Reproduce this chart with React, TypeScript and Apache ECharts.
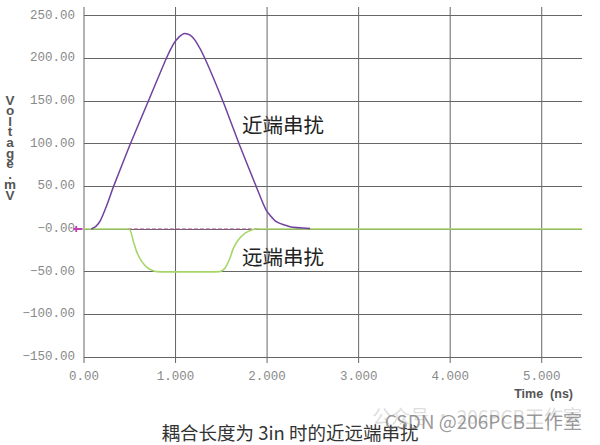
import React, { useEffect, useRef } from "react";
import * as echarts from "echarts";

// Axis tick values
const timeTicks = [0, 1, 2, 3, 4, 5];
const voltageTicks = [-150, -100, -50, 0, 50, 100, 150, 200, 250];

// Near-end crosstalk waveform: [time (ns), voltage (mV)]
const nearEnd: [number, number][] = [
  [0.08, 0], [0.13, 3], [0.18, 10], [0.25, 28], [0.32, 49], [0.5, 98],
  [0.7, 149], [0.9, 200], [0.98, 217], [1.04, 225], [1.1, 229], [1.16, 227],
  [1.22, 220], [1.32, 200], [1.52, 149], [1.7, 98], [1.88, 50], [1.99, 22],
  [2.1, 8.5], [2.25, 2.7], [2.47, 0.5],
];

// Far-end crosstalk waveform: [time (ns), voltage (mV)]
const farEnd: [number, number][] = [
  [0, 0], [0.49, 0], [0.54, -15], [0.575, -26.5], [0.63, -38], [0.7, -46],
  [0.79, -50], [1.0, -50.3], [1.2, -50.3], [1.485, -50], [1.54, -46],
  [1.595, -34], [1.63, -23], [1.685, -13], [1.76, -5], [1.83, -1.2],
  [1.885, 0], [5.44, 0],
];

// Zero reference trace (visible where the far-end waveform leaves zero)
const zeroRef: [number, number][] = [[0.48, 0], [1.9, 0]];

// Y axis title, one upright letter per row
const yTitleChars = ["V", "o", "l", "t", "a", "g", "e", ".", "m", "V"];

const X_MAX = 5.44;
const Y_MIN = -150;
const Y_MAX = 260;
// vertical grid lines run a little below the bottom line, as tick marks
const TICK_OVERHANG = 7;

const gridColor = "#666";
const monoFont = "'Liberation Mono', 'DejaVu Sans Mono', monospace";
const cjkFont = "'Noto Sans CJK SC', 'Noto Sans', sans-serif";

function fmtVoltage(v: number): string {
  if (v === 0) return "\u22120.00";
  if (v < 0) return "\u2212" + Math.abs(v).toFixed(2);
  return v.toFixed(2);
}

export default function App() {
  const ref = useRef<HTMLDivElement>(null);

  useEffect(() => {
    if (!ref.current) return;
    const chart = echarts.init(ref.current, undefined, { renderer: "svg" });

    const yTitle = yTitleChars.map((ch, i) => ({
      type: "text",
      x: 10,
      y: 100 + i * 10.6,
      style: {
        text: ch,
        fill: "#555",
        font: "bold 13.5px 'Liberation Sans', Arial, sans-serif",
        lineHeight: 10,
        align: "center",
        verticalAlign: "middle",
      },
    }));

    const timeGrid = timeTicks.map((t) => ({
      name: "grid-" + t,
      type: "line",
      data: [
        [t, Y_MIN - TICK_OVERHANG],
        [t, Y_MAX],
      ],
      showSymbol: false,
      silent: true,
      clip: false,
      lineStyle: { color: gridColor, width: 1 },
      emphasis: { disabled: true },
      z: 1,
    }));

    chart.setOption({
      animation: false,
      backgroundColor: "#ffffff",
      grid: { left: 84, right: 18, top: 7, bottom: 88, containLabel: false },
      xAxis: {
        type: "value",
        min: 0,
        max: X_MAX,
        interval: 1,
        axisLine: { show: false },
        axisTick: { show: false },
        axisLabel: {
          customValues: timeTicks,
          margin: 13,
          color: "#8a8a8a",
          fontFamily: monoFont,
          fontSize: 12.5,
          formatter: (v: number) => (v === 0 ? "0.00" : v.toFixed(3)),
        },
        splitLine: { show: false },
      },
      yAxis: {
        type: "value",
        min: Y_MIN,
        max: Y_MAX,
        interval: 50,
        axisLine: { show: false },
        axisTick: { show: false },
        axisLabel: {
          customValues: voltageTicks,
          margin: 9,
          color: "#8a8a8a",
          fontFamily: monoFont,
          fontSize: 12.5,
          formatter: fmtVoltage,
        },
        splitLine: {
          show: true,
          showMaxLine: false,
          lineStyle: { color: gridColor, width: 1 },
        },
      },
      series: [
        ...timeGrid,
        {
          name: "zero",
          type: "line",
          data: zeroRef,
          showSymbol: false,
          clip: false,
          lineStyle: { color: "#b0508f", width: 1, type: [4, 2] },
          markPoint: {
            silent: true,
            symbol: "path://M2,0 H4 V2 H10 V4 H4 V6 H2 V4 H0 V2 H2 Z",
            symbolSize: [9, 6],
            symbolOffset: [-6, 0],
            itemStyle: { color: "#c040b0" },
            label: { show: false },
            data: [{ coord: [0, 0] }],
          },
          z: 2,
        },
        {
          name: "远端串扰",
          type: "line",
          data: farEnd,
          showSymbol: false,
          smooth: 0.2,
          lineStyle: { color: "#a6d66a", width: 1.6 },
          z: 3,
        },
        {
          name: "近端串扰",
          type: "line",
          data: nearEnd,
          showSymbol: false,
          smooth: 0.2,
          lineStyle: { color: "#7042a0", width: 1.5 },
          z: 4,
        },
      ],
      graphic: [
        ...yTitle,
        {
          type: "text",
          x: 573,
          y: 394,
          style: {
            text: "Time  (ns)",
            fill: "#555",
            font: "bold 12.5px 'Liberation Sans', Arial, sans-serif",
            align: "right",
            verticalAlign: "middle",
          },
        },
        {
          type: "text",
          x: 283,
          y: 124,
          style: {
            text: "近端串扰",
            fill: "#222",
            font: `20.5px ${cjkFont}`,
            align: "center",
            verticalAlign: "middle",
          },
        },
        {
          type: "text",
          x: 283,
          y: 256,
          style: {
            text: "远端串扰",
            fill: "#222",
            font: `20.5px ${cjkFont}`,
            align: "center",
            verticalAlign: "middle",
          },
        },
        {
          type: "text",
          x: 290,
          y: 432,
          style: {
            text: "耦合长度为 3in 时的近远端串扰",
            fill: "#333",
            font: `18.5px ${cjkFont}`,
            align: "center",
            verticalAlign: "middle",
          },
        },
        {
          type: "text",
          x: 582,
          y: 415,
          style: {
            text: "公众号 · 206PCB工作室",
            fill: "rgba(160,160,160,0.35)",
            font: `19px ${cjkFont}`,
            align: "right",
            verticalAlign: "middle",
          },
        },
        {
          type: "text",
          x: 582,
          y: 420,
          style: {
            text: "CSDN @206PCB工作室",
            fill: "rgba(110,110,110,0.7)",
            font: `19px ${cjkFont}`,
            align: "right",
            verticalAlign: "middle",
          },
        },
      ],
    });

    return () => chart.dispose();
  }, []);

  return (
    <div
      ref={ref}
      style={{ position: "fixed", left: 0, top: 0, width: 600, height: 445 }}
    />
  );
}
